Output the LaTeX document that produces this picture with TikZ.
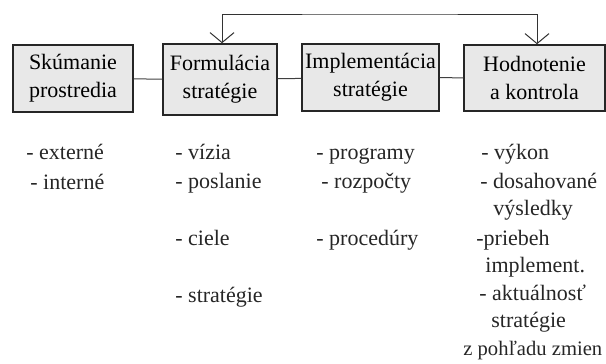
\documentclass[tikz,border=0pt]{standalone}
\usepackage{fontspec}
\setmainfont{Liberation Serif}
\usetikzlibrary{arrows.meta}

\begin{document}
\begin{tikzpicture}[
    x=0.5pt, y=-0.5pt,
    font=\fontsize{11}{14}\selectfont,
    component/.style={rectangle, draw=black!85, line width=0.75pt, fill=black!9, inner sep=0pt, align=center},
    link/.style={line width=0.5pt, draw=black!75},
    arrow/.style={{Straight Barb[length=5pt,width=12pt]}-{Straight Barb[length=5pt,width=12pt]}, line width=0.5pt, draw=black!80},
    item/.style={anchor=base west, inner sep=0pt, text=black!85}
]
    \useasboundingbox (0,0) rectangle (606,364);

    % Components
    \node[component, minimum width=60pt, minimum height=33.5pt] (scan) at (73,78.5) {Skúmanie\\prostredia};
    \node[component, minimum width=57pt, minimum height=35.5pt] (form) at (220,79.5) {Formulácia\\stratégie};
    \node[component, minimum width=68.5pt, minimum height=33.5pt] (impl) at (370.5,77.5) {Implementácia\\stratégie};
    \node[component, minimum width=70.5pt, minimum height=33pt] (eval) at (534.5,78) {Hodnotenie\\a kontrola};

    % Arrows
    \draw[link] (scan) -- (form);
    \draw[link] (form) -- (impl);
    \draw[link] (impl) -- (eval);
    \coordinate (fb) at (380,14);
    \draw[arrow] ([xshift=1pt]form.north) |- (fb) -| ([xshift=1.25pt]eval.north);

    % Lists
    \node[item] (ext) at (26,159) {- externé};
    \node[item] (int) at (30,189) {- interné};

    \node[item] (viz) at (175,159) {- vízia};
    \node[item] (posl) at (175,188) {- poslanie};
    \node[item] (ciel) at (175,245) {- ciele};
    \node[item] (strat) at (175,302) {- stratégie};

    \node[item] (prog) at (316,159) {- programy};
    \node[item] (rozp) at (321,188) {- rozpočty};
    \node[item] (proc) at (316,245) {- procedúry};

    \node[item] (vyk) at (481,159) {- výkon};
    \node[item] (dos) at (480,188) {- dosahované};
    \node[item] (vysl) at (493,215) {výsledky};
    \node[item] (prieb) at (476,245) {-priebeh};
    \node[item] (implm) at (485,272) {implement.};
    \node[item] (akt) at (479,300) {- aktuálnosť};
    \node[item] (strat2) at (491,327) {stratégie};
    \node[item, font=\fontsize{10.3}{14}\selectfont] (zmien) at (463,355) {z pohľadu zmien};
\end{tikzpicture}
\end{document}
